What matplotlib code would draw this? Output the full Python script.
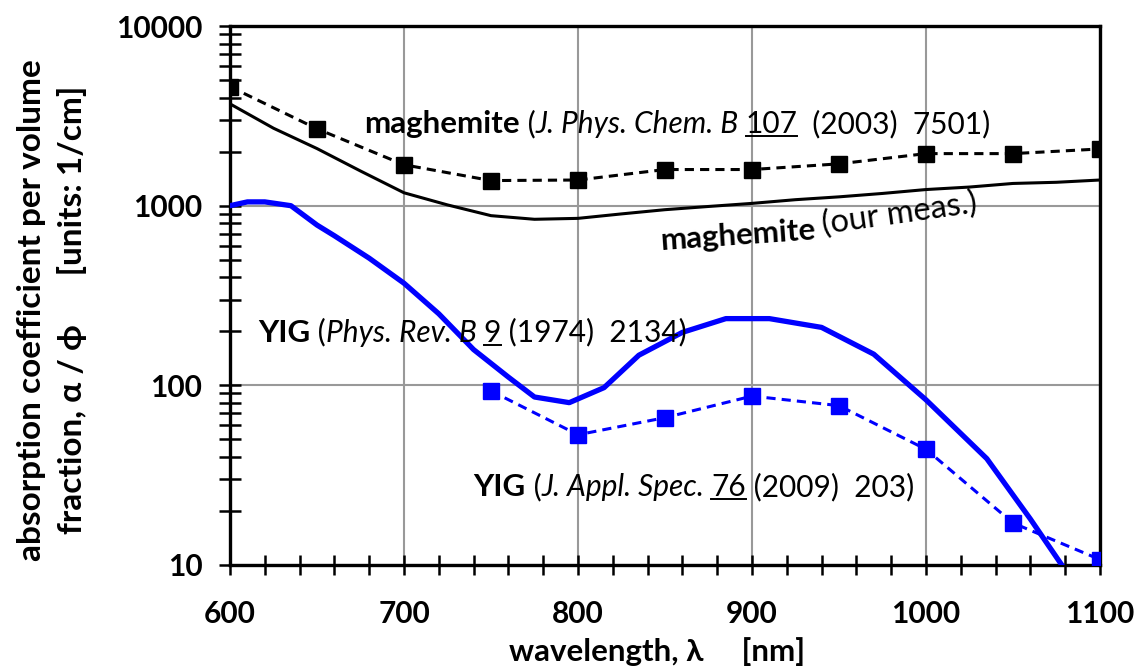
import matplotlib
matplotlib.use('Agg')
import matplotlib.pyplot as plt
from matplotlib.ticker import MultipleLocator, LogLocator, NullFormatter, FixedLocator, FixedFormatter
from matplotlib.offsetbox import TextArea, HPacker, AnnotationBbox
from matplotlib.lines import Line2D
from matplotlib.transforms import IdentityTransform

plt.rcParams['font.family'] = ['Lato', 'DejaVu Sans']

# maghemite, J. Phys. Chem. B 107 (2003) 7501
magRefX = [600, 650, 700, 750, 800, 850, 900, 950, 1000, 1050, 1100]
magRefY = [4600, 2680, 1690, 1380, 1390, 1590, 1590, 1710, 1950, 1950, 2070]

# maghemite, our measurement
magOursX = [600, 625, 650, 675, 700, 725, 750, 775, 800, 825, 850, 875, 900, 925, 950, 975, 1000, 1025, 1050, 1075, 1100]
magOursY = [3690, 2700, 2080, 1560, 1180, 1010, 880, 840, 850, 900, 950, 990, 1030, 1080, 1120, 1170, 1230, 1270, 1330, 1350, 1390]

# YIG, Phys. Rev. B 9 (1974) 2134
yigPRBX = [600, 610, 620, 635, 650, 660, 680, 700, 720, 740, 760, 775, 795, 815, 835, 860, 885, 910, 940, 970, 1000, 1035, 1060, 1078]
yigPRBY = [1000, 1050, 1050, 1000, 780, 680, 510, 370, 250, 158, 111, 86, 80, 97, 147, 197, 235, 235, 210, 149, 83, 39, 18, 10]

# YIG, J. Appl. Spec. 76 (2009) 203
yigJASX = [750, 800, 850, 900, 950, 1000, 1050, 1100]
yigJASY = [93, 53, 66, 87, 77, 44, 17.1, 10.7]

xTicks = [600, 700, 800, 900, 1000, 1100]
yTicks = [10, 100, 1000, 10000]
yTickLabels = ['10', '100', '1000', '10000']

blue = '#0000ff'

fig = plt.figure(figsize=(11.41, 6.70), dpi=100)
ax = fig.add_axes([0.2016, 0.157, 0.7624, 0.804])

ax.plot(magRefX, magRefY, color='black', lw=2.2, dashes=(3, 2), marker='s', ms=12, zorder=3)
ax.plot(magOursX, magOursY, color='black', lw=2.2, zorder=3)
ax.plot(yigPRBX, yigPRBY, color=blue, lw=3.8, zorder=3)
ax.plot(yigJASX, yigJASY, color=blue, lw=2.2, dashes=(3, 2), marker='s', ms=12, zorder=3)

ax.set_yscale('log')
ax.set_xlim(600, 1100)
ax.set_ylim(10, 10000)
ax.xaxis.set_major_locator(FixedLocator(xTicks))
ax.xaxis.set_minor_locator(MultipleLocator(20))
ax.yaxis.set_major_locator(FixedLocator(yTicks))
ax.yaxis.set_major_formatter(FixedFormatter(yTickLabels))
ax.yaxis.set_minor_locator(LogLocator(base=10, subs=range(2, 10)))
ax.yaxis.set_minor_formatter(NullFormatter())

ax.grid(which='major', color='#999999', lw=1.5)
ax.set_axisbelow(True)
for s in ax.spines.values():
    s.set_linewidth(2.4)

ax.tick_params(axis='both', which='both', direction='inout', width=1.8, labelsize=21.5)
ax.tick_params(axis='y', which='both', length=16, pad=12)
ax.tick_params(axis='x', which='both', length=14, pad=18)
for lab in ax.get_xticklabels() + ax.get_yticklabels():
    lab.set_fontweight('bold')

fig.text(0.576, 0.027, 'wavelength, \u03bb     [nm]', fontsize=22.5, fontweight='bold', ha='center', va='center')
fig.text(0.028, 0.537, 'absorption coefficient per volume', fontsize=24, fontweight='bold', rotation=90, ha='center', va='center')
fig.text(0.063, 0.537, 'fraction, \u03b1 / \u03d5      [units: 1/cm]', fontsize=24, fontweight='bold', rotation=90, ha='center', va='center')

underlined = []

def richLabel(pieces, xy, size=21.5):
    areas = []
    for txt, style in pieces:
        props = dict(fontsize=size, color='black')
        if 'b' in style:
            props['fontweight'] = 'bold'
            props['fontsize'] = size + 1
        if 'i' in style:
            props['fontstyle'] = 'italic'
        ta = TextArea(txt, textprops=props)
        areas.append(ta)
        if 'u' in style:
            underlined.append(ta)
    box = HPacker(children=areas, align='baseline', pad=0, sep=0)
    ab = AnnotationBbox(box, xy, xycoords='data', box_alignment=(0, 0.5), frameon=False, pad=0, zorder=5)
    ax.add_artist(ab)

richLabel([('maghemite', 'b'), (' (', ''), ('J. Phys. Chem. B ', 'i'), ('107', 'u'), ('  (2003)  7501)', '')], (677, 2860))
richLabel([('YIG', 'b'), (' (', ''), ('Phys. Rev. B ', 'i'), ('9', 'u'), (' (1974)  2134)', '')], (616, 197))
richLabel([('YIG', 'b'), (' (', ''), ('J. Appl. Spec. ', 'i'), ('76', 'u'), (' (2009)  203)', '')], (740, 27.1))

ax.text(847, 635, 'maghemite', fontsize=22.5, fontweight='bold', rotation=4, ha='left', va='center', rotation_mode='anchor')
ax.text(940, 780, '(our meas.)', fontsize=23.5, rotation=8, ha='left', va='center', rotation_mode='anchor')

fig.canvas.draw()
r = fig.canvas.get_renderer()
for ta in underlined:
    bb = ta._text.get_window_extent(r)
    yLine = bb.y0 + 2
    fig.add_artist(Line2D([bb.x0, bb.x1], [yLine, yLine], color='black', lw=1.4, transform=IdentityTransform()))

fig.savefig('out.png', dpi=100)
